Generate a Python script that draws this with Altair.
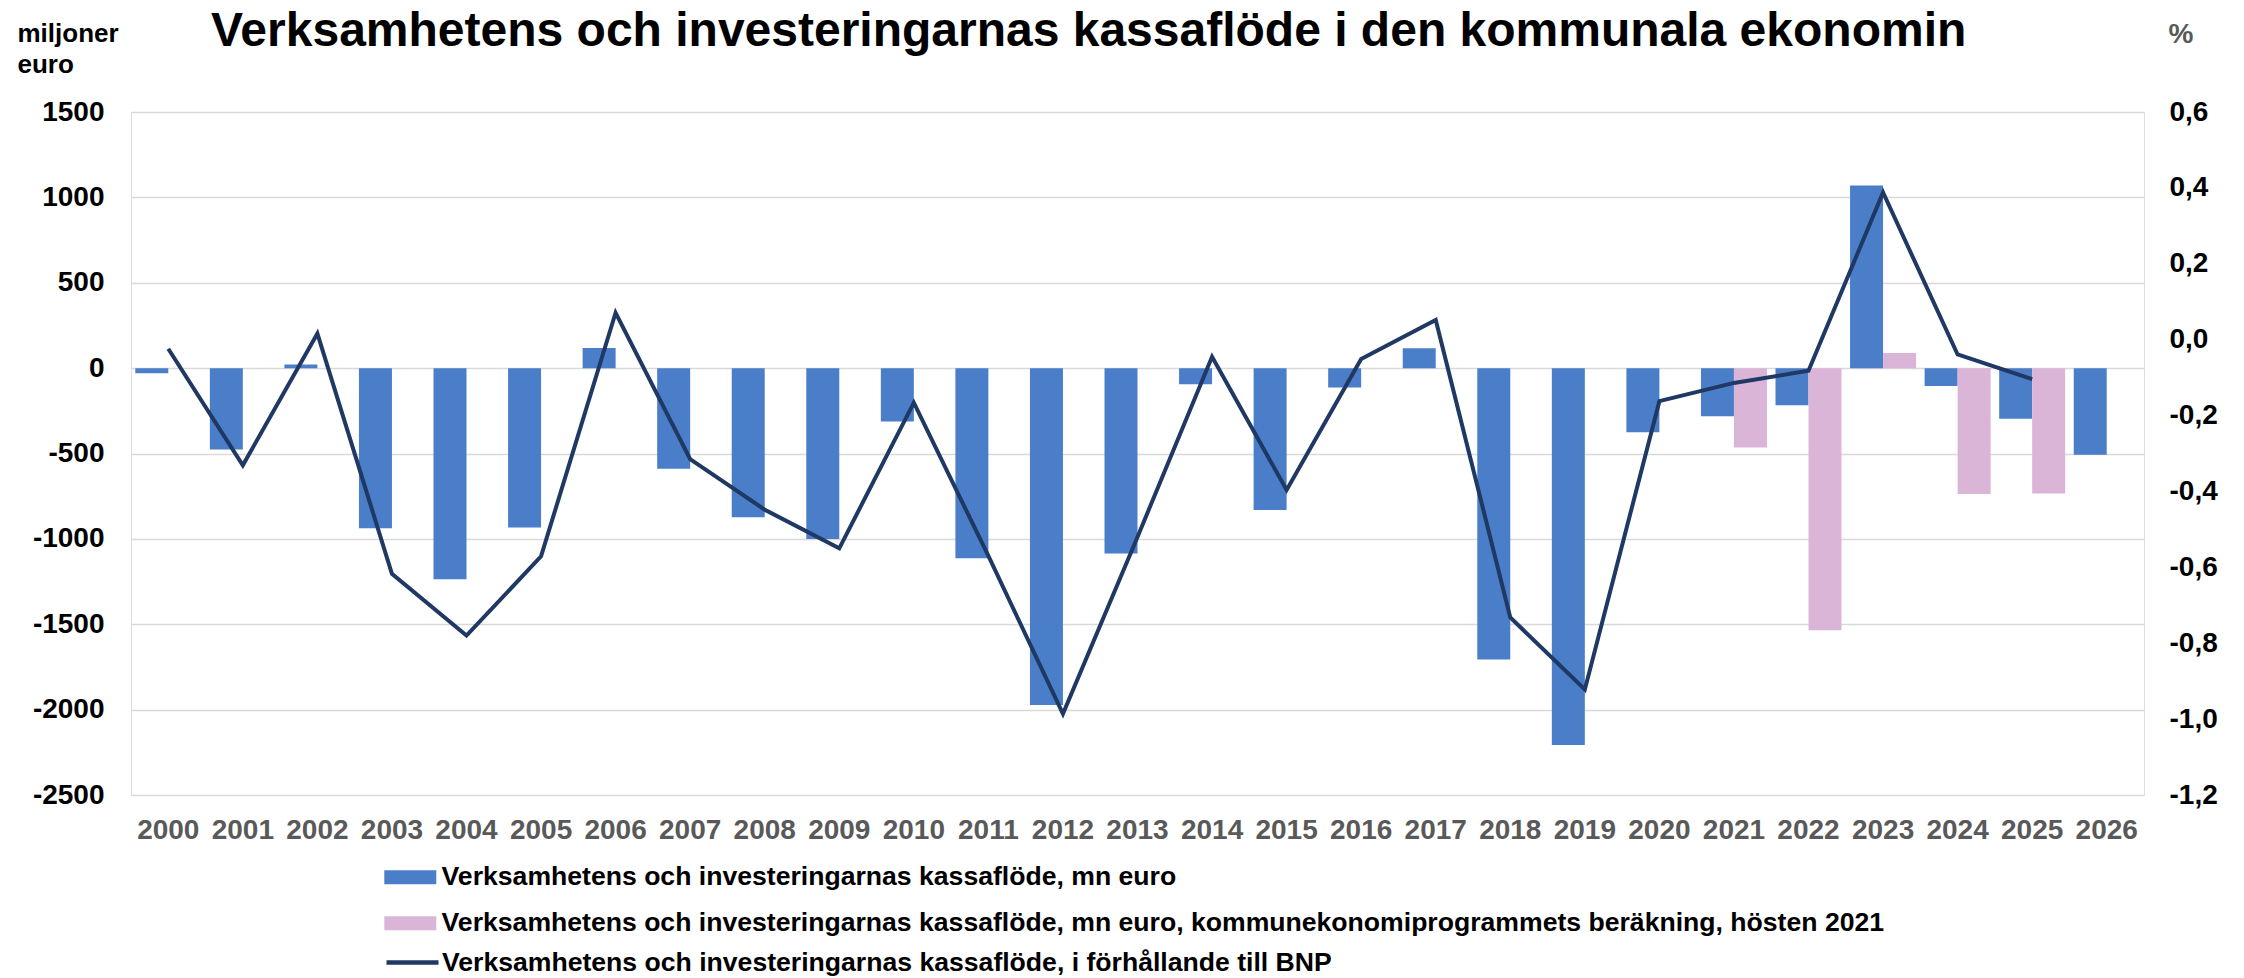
import altair as alt
import pandas as pd

FONT = "Liberation Sans"
BLUE = "#4a7ec8"
PINK = "#dbb5d7"
NAVY = "#1f3864"

S_BLUE = "Verksamhetens och investeringarnas kassaflöde, mn euro"
S_PINK = "Verksamhetens och investeringarnas kassaflöde, mn euro, kommunekonomiprogrammets beräkning, hösten 2021"
S_LINE = "Verksamhetens och investeringarnas kassaflöde, i förhållande till BNP"

years = ["2000", "2001", "2002", "2003", "2004", "2005", "2006", "2007", "2008",
         "2009", "2010", "2011", "2012", "2013", "2014", "2015", "2016", "2017",
         "2018", "2019", "2020", "2021", "2022", "2023", "2024", "2025", "2026"]

blue_values = [-30, -476, 21, -938, -1237, -933, 118, -589, -874, -1000, -312,
               -1113, -1973, -1086, -94, -831, -113, 116, -1707, -2207, -376,
               -282, -218, 1070, -105, -297, -508]

pink_years = ["2021", "2022", "2023", "2024", "2025"]
pink_values = [-465, -1535, 89, -737, -734]

line_years = ["2000", "2001", "2002", "2003", "2004", "2005", "2006", "2007", "2008",
              "2009", "2010", "2011", "2012", "2013", "2014", "2015", "2016", "2017",
              "2018", "2019", "2020", "2021", "2022", "2023", "2024", "2025"]
line_values = [-0.024, -0.331, 0.016, -0.617, -0.780, -0.571, 0.071, -0.315, -0.448,
               -0.550, -0.166, -0.570, -0.986, -0.520, -0.045, -0.396, -0.051, 0.052,
               -0.732, -0.922, -0.162, -0.114, -0.082, 0.388, -0.039, -0.104]

left_ticks = [-2500, -2000, -1500, -1000, -500, 0, 500, 1000, 1500]
right_ticks = [-1.2, -1.0, -0.8, -0.6, -0.4, -0.2, 0.0, 0.2, 0.4, 0.6]

TITLE = "Verksamhetens och investeringarnas kassaflöde i den kommunala ekonomin"

bars_df = pd.DataFrame(
    [{"year": y, "series": S_BLUE, "value": v} for y, v in zip(years, blue_values)]
    + [{"year": y, "series": S_PINK, "value": v} for y, v in zip(pink_years, pink_values)]
)
line_df = pd.DataFrame({"year": line_years, "series": S_LINE, "value": line_values})

x_axis = alt.Axis(title=None, labelAngle=0, labelFont=FONT, labelFontSize=28,
                  labelFontWeight="bold", labelColor="#595959", labelPadding=21,
                  ticks=False, domain=False, grid=False, labelOverlap=False)
x_scale = alt.Scale(domain=years, paddingInner=0.115, paddingOuter=0.0575)

legend_common = dict(
    orient="none", direction="vertical", title=None, padding=0,
    labelFont=FONT, labelFontSize=26.6, labelFontWeight="bold", labelColor="black",
    labelLimit=0, rowPadding=19, legendX=266,
)

bars = alt.Chart(bars_df).mark_bar().encode(
    x=alt.X("year:N", sort=years, scale=x_scale, axis=x_axis),
    xOffset=alt.XOffset("series:N", scale=alt.Scale(domain=[S_BLUE, S_PINK],
                                                     paddingInner=0, paddingOuter=0)),
    y=alt.Y("value:Q", scale=alt.Scale(domain=[-2500, 1500], nice=False),
            axis=alt.Axis(orient="left", values=left_ticks,
                          labelExpr="replace(format(datum.value, 'd'), '\u2212', '-')",
                          grid=True,
                          gridColor="#d9d9d9", gridWidth=1.5, domain=False, ticks=False,
                          labelPadding=27, labelFont=FONT, labelFontSize=28,
                          labelFontWeight="bold", labelColor="black",
                          title=["miljoner", "euro"], titleAngle=0, titleAlign="left",
                          titleBaseline="alphabetic", titleX=-114, titleY=-71,
                          titleFont=FONT, titleFontSize=26, titleFontWeight="bold",
                          titleColor="black", titleLineHeight=31)),
    color=alt.Color("series:N", scale=alt.Scale(domain=[S_BLUE, S_PINK], range=[BLUE, PINK]),
                    legend=alt.Legend(symbolType="M-2,-0.54H2V0.54H-2Z", symbolSize=676,
                                      symbolStrokeWidth=0, symbolOpacity=1,
                                      labelOffset=18, legendY=752, **legend_common)),
)

line = alt.Chart(line_df).mark_line(strokeWidth=4).encode(
    x=alt.X("year:N", sort=years, scale=x_scale, axis=x_axis),
    y=alt.Y("value:Q", scale=alt.Scale(domain=[-1.2, 0.6], nice=False, zero=False),
            axis=alt.Axis(orient="right", values=right_ticks,
                          labelExpr="replace(replace(format(datum.value, '.1f'), '.', ','), '\u2212', '-')",
                          grid=False, domain=False, ticks=False, labelPadding=25,
                          labelFont=FONT, labelFontSize=28, labelFontWeight="bold",
                          labelColor="black", title="%", titleAngle=0, titleAlign="left",
                          titleBaseline="alphabetic", titleX=24, titleY=-70,
                          titleFont=FONT, titleFontSize=28, titleFontWeight="bold",
                          titleColor="#595959")),
    stroke=alt.Stroke("series:N", scale=alt.Scale(domain=[S_LINE], range=[NAVY]),
                      legend=alt.Legend(symbolType="M-2,0H2", symbolSize=676,
                                        symbolStrokeWidth=4.5, labelOffset=14,
                                        legendY=835, **legend_common)),
)

chart = (
    alt.layer(bars, line)
    .resolve_scale(y="independent")
    .properties(
        width=2013, height=683,
        title=alt.TitleParams(TITLE, font=FONT, fontSize=48, fontWeight="bold",
                              color="black", anchor="start", frame="group",
                              dx=80, dy=74, offset=0, baseline="alphabetic"),
        autosize=alt.AutoSizeParams(type="none"),
        padding={"left": 131, "top": 112, "right": 100, "bottom": 183},
    )
    .configure_view(stroke=None)
    .configure(font=FONT)
)

chart.save("out.html", embed_options={"renderer": "svg", "actions": False})
